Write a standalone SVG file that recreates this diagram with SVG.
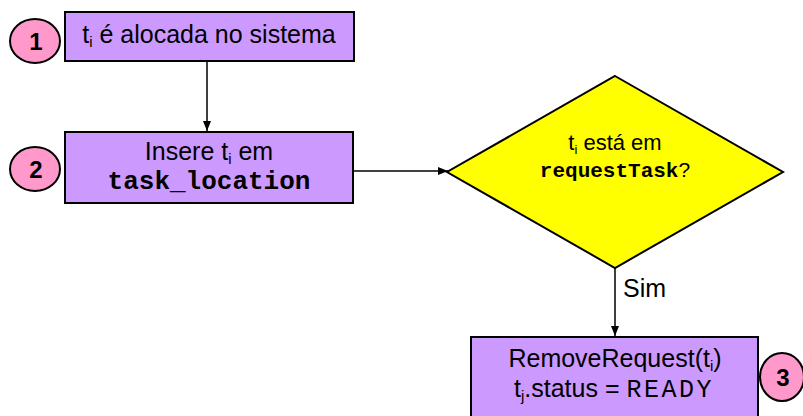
<svg xmlns="http://www.w3.org/2000/svg" width="803" height="416" viewBox="0 0 803 416">
<defs>
<style>
.box{fill:#CC99FF;stroke:#000;stroke-width:2}
.dia{fill:#FFFF00;stroke:#000;stroke-width:2}
.num{fill:#FF99CC;stroke:#000;stroke-width:2}
.t{font-family:"Liberation Sans",Arial,sans-serif;font-size:25px;fill:#000;text-anchor:middle}
.n{font-family:"Liberation Sans",Arial,sans-serif;font-size:24px;font-weight:bold;fill:#000;text-anchor:middle}
.m{font-family:"Liberation Mono","Courier New",monospace}
.sub{font-size:15px}
.conn{stroke:#000;stroke-width:1.5;fill:none}
</style>
<marker id="arrL" viewBox="0 0 10 10" refX="10" refY="5" markerWidth="10" markerHeight="10" orient="auto" markerUnits="userSpaceOnUse">
<path d="M0,1 L10,5 L0,9 z" fill="#000"/>
</marker>
</defs>
<rect width="803" height="416" fill="#fff"/>
<g id="connectors">
<line class="conn" x1="207" y1="61" x2="207" y2="131" marker-end="url(#arrL)"/>
<line class="conn" x1="353" y1="171" x2="448" y2="171" marker-end="url(#arrL)"/>
<line class="conn" x1="615" y1="268" x2="615" y2="336" marker-end="url(#arrL)"/>
<text class="t" x="623" y="297" style="text-anchor:start">Sim</text>
</g>
<g id="n1">
<rect class="box" x="65" y="12" width="289" height="49"/>
<text class="t" x="209" y="43">t<tspan class="sub" dy="4">i</tspan><tspan dy="-4"> é alocada no sistema</tspan></text>
</g>
<g id="c1">
<ellipse class="num" cx="35" cy="41" rx="25" ry="22"/>
<text class="n" x="36" y="50">1</text>
</g>
<g id="n2">
<rect class="box" x="65" y="132" width="288" height="71"/>
<text class="t" x="209" y="160">Insere t<tspan class="sub" dy="4">i</tspan><tspan dy="-4"> em</tspan></text>
<text class="t m" x="209" y="189" style="font-weight:bold;font-size:26px">task_location</text>
</g>
<g id="c2">
<ellipse class="num" cx="35" cy="169" rx="25" ry="22"/>
<text class="n" x="36" y="178">2</text>
</g>
<g id="n3">
<polygon class="dia" points="615,76 783,172 615,268 447,172"/>
<text class="t" x="615" y="150" style="font-size:22px">t<tspan class="sub" style="font-size:13px" dy="4">i</tspan><tspan dy="-4"> está em</tspan></text>
<text class="t" x="615" y="177" style="font-size:21px"><tspan class="m" style="font-weight:bold">requestTask</tspan>?</text>
</g>
<g id="n4">
<rect class="box" x="471" y="337" width="287" height="82"/>
<text class="t" x="615" y="367">RemoveRequest(t<tspan class="sub" dy="4">i</tspan><tspan dy="-4">)</tspan></text>
<text class="t" x="614" y="397">t<tspan class="sub" dy="4">j</tspan><tspan dy="-4">.status = </tspan><tspan class="m" style="font-size:25px" letter-spacing="2.5">READY</tspan></text>
</g>
<g id="c3">
<ellipse class="num" cx="782" cy="377" rx="22" ry="24"/>
<text class="n" x="783" y="386">3</text>
</g>
</svg>
